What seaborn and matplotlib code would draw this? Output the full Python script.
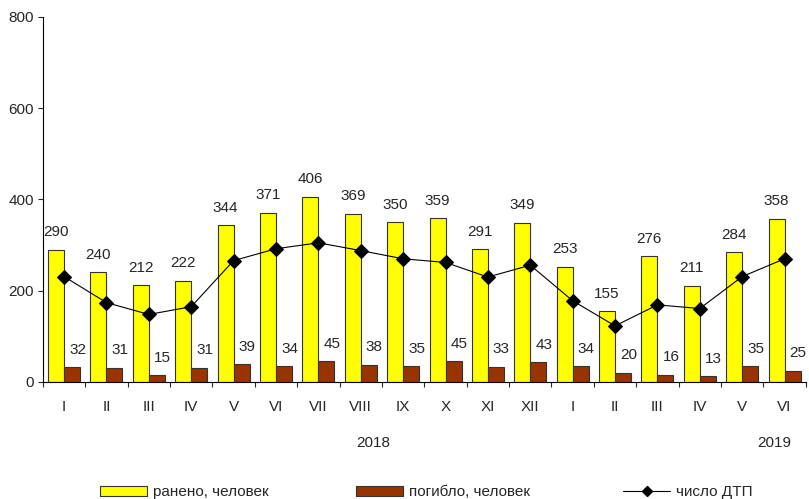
import matplotlib
matplotlib.use("Agg")
import matplotlib.pyplot as plt
import matplotlib.ticker as mticker
from matplotlib.patches import Patch
from matplotlib.lines import Line2D
import seaborn as sns
import numpy as np
import pandas as pd

# Data
months = ["I", "II", "III", "IV", "V", "VI", "VII", "VIII", "IX", "X", "XI", "XII",
          "I", "II", "III", "IV", "V", "VI"]
years = [2018] * 12 + [2019] * 6
injured = [290, 240, 212, 222, 344, 371, 406, 369, 350, 359, 291, 349,
           253, 155, 276, 211, 284, 358]
killed = [32, 31, 15, 31, 39, 34, 45, 38, 35, 45, 33, 43,
          34, 20, 16, 13, 35, 25]
accidents = [231, 174, 148, 165, 266, 292, 305, 288, 270, 262, 230, 256,
             178, 123, 169, 161, 231, 270]

lab_inj = "ранено, человек"
lab_kil = "погибло, человек"
lab_acc = "число ДТП"

periods = [f"{m}-{y}" for m, y in zip(months, years)]
df = pd.DataFrame({
    "period": periods * 2,
    "value": injured + killed,
    "series": [lab_inj] * len(periods) + [lab_kil] * len(periods),
})

sns.set_style("ticks")
plt.rcParams["font.family"] = ["Liberation Sans", "DejaVu Sans"]
plt.rcParams["font.size"] = 11

fig = plt.figure(figsize=(8.09, 4.99), dpi=100)
ax = fig.add_axes([0.053, 0.2345, 0.943, 0.7315])

palette = {lab_inj: "#FFFF00", lab_kil: "#993300"}
sns.barplot(data=df, x="period", y="value", hue="series", order=periods,
            hue_order=[lab_inj, lab_kil], palette=palette, saturation=1,
            width=0.755, edgecolor="#333333", linewidth=0.8, legend=False, ax=ax)

sns.lineplot(x=np.arange(len(periods)), y=accidents, color="black", marker="D",
             markersize=7.5, markeredgecolor="black", linewidth=0.8, legend=False, ax=ax)

# value labels above bars
for cont, dx in zip(ax.containers, [0, 4]):
    for bar in cont:
        h = bar.get_height()
        ax.annotate(f"{h:.0f}", (bar.get_x() + bar.get_width() / 2, h),
                    xytext=(dx, 9.7), textcoords="offset points",
                    ha="center", va="baseline", fontsize=11)

ax.set_xlim(-0.5, len(periods) - 0.5)
ax.set_ylim(0, 800)
ax.yaxis.set_major_locator(mticker.MultipleLocator(200))
ax.set_xticks(np.arange(len(periods)))
ax.set_xticklabels(months)
ax.xaxis.set_minor_locator(mticker.FixedLocator(np.arange(-0.5, len(periods), 1.0)))
ax.tick_params(axis="x", which="major", length=0, pad=13, labelsize=11)
ax.tick_params(axis="x", which="minor", length=3.6, width=0.8, direction="out")
ax.tick_params(axis="y", length=3.6, width=0.8, direction="out", pad=3, labelsize=11)
ax.set_xlabel("")
ax.set_ylabel("")
for s in ["top", "right"]:
    ax.spines[s].set_visible(False)
for s in ["left", "bottom"]:
    ax.spines[s].set_linewidth(0.8)
    ax.spines[s].set_color("black")

# year labels under the month ticks
trans = ax.get_xaxis_transform()
ax.text(7.3, -0.168, "2018", transform=trans, ha="center", va="center", fontsize=11)
ax.text(16.75, -0.168, "2019", transform=trans, ha="center", va="center", fontsize=11)

# legend, three separate entries spread across the bottom
entries = [
    (Patch(facecolor="#FFFF00", edgecolor="#333333", linewidth=0.8), lab_inj, 100),
    (Patch(facecolor="#993300", edgecolor="#333333", linewidth=0.8), lab_kil, 356),
    (Line2D([], [], color="black", marker="D", markersize=5, linewidth=0.8), lab_acc, 623),
]
for handle, label, xpix in entries:
    fig.legend([handle], [label], loc="center left",
               bbox_to_anchor=(xpix / 809, 1 - 492 / 499), frameon=False,
               handlelength=3.1, handleheight=0.65, handletextpad=0.4,
               borderpad=0, borderaxespad=0, fontsize=11)

fig.savefig("out.png", dpi=100, facecolor="white")
